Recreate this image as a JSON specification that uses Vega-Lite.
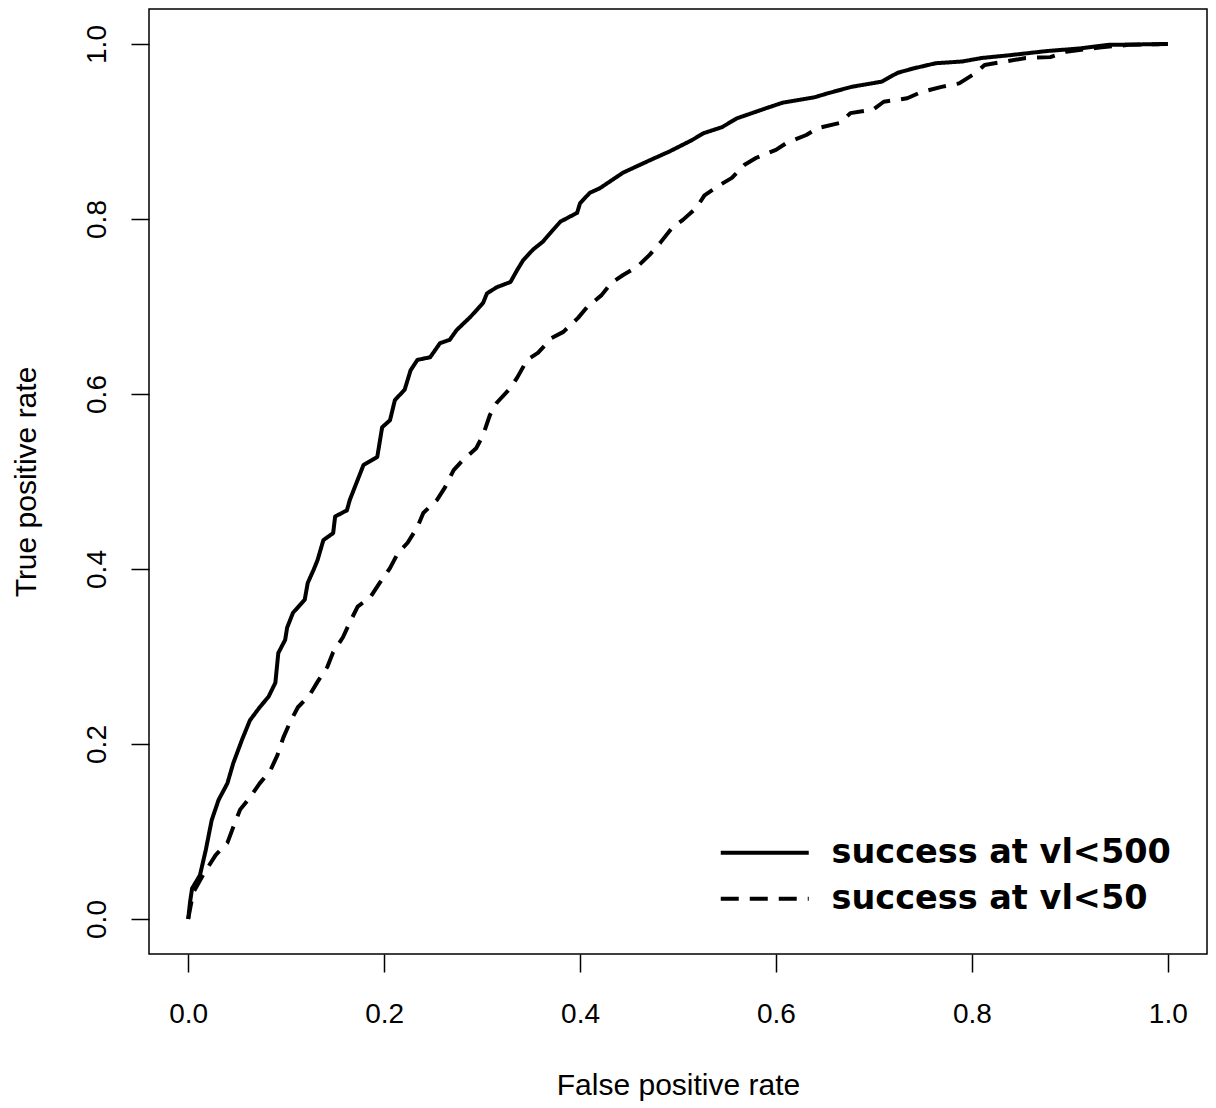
{
  "$schema": "https://vega.github.io/schema/vega-lite/v6.json",
  "width": 1058,
  "height": 945,
  "autosize": {"type": "none"},
  "padding": {"left": 149, "top": 9, "right": 9, "bottom": 154},
  "background": "white",
  "config": {
    "view": {"stroke": "black", "strokeWidth": 1.5},
    "font": "Liberation Sans"
  },
  "datasets": {
    "roc": [
      {"series": "success at vl<500", "fpr": 0, "tpr": 0},
      {"series": "success at vl<500", "fpr": 0.002, "tpr": 0.02},
      {"series": "success at vl<500", "fpr": 0.004, "tpr": 0.035},
      {"series": "success at vl<500", "fpr": 0.012, "tpr": 0.05},
      {"series": "success at vl<500", "fpr": 0.018, "tpr": 0.079},
      {"series": "success at vl<500", "fpr": 0.024, "tpr": 0.113},
      {"series": "success at vl<500", "fpr": 0.031, "tpr": 0.136},
      {"series": "success at vl<500", "fpr": 0.04, "tpr": 0.155},
      {"series": "success at vl<500", "fpr": 0.046, "tpr": 0.178},
      {"series": "success at vl<500", "fpr": 0.055, "tpr": 0.205},
      {"series": "success at vl<500", "fpr": 0.063, "tpr": 0.227},
      {"series": "success at vl<500", "fpr": 0.073, "tpr": 0.242},
      {"series": "success at vl<500", "fpr": 0.082, "tpr": 0.254},
      {"series": "success at vl<500", "fpr": 0.089, "tpr": 0.27},
      {"series": "success at vl<500", "fpr": 0.092, "tpr": 0.304},
      {"series": "success at vl<500", "fpr": 0.099, "tpr": 0.319},
      {"series": "success at vl<500", "fpr": 0.101, "tpr": 0.333},
      {"series": "success at vl<500", "fpr": 0.107, "tpr": 0.35},
      {"series": "success at vl<500", "fpr": 0.119, "tpr": 0.365},
      {"series": "success at vl<500", "fpr": 0.122, "tpr": 0.384},
      {"series": "success at vl<500", "fpr": 0.128, "tpr": 0.399},
      {"series": "success at vl<500", "fpr": 0.132, "tpr": 0.41},
      {"series": "success at vl<500", "fpr": 0.138, "tpr": 0.433},
      {"series": "success at vl<500", "fpr": 0.148, "tpr": 0.441},
      {"series": "success at vl<500", "fpr": 0.15, "tpr": 0.46},
      {"series": "success at vl<500", "fpr": 0.162, "tpr": 0.467},
      {"series": "success at vl<500", "fpr": 0.165, "tpr": 0.479},
      {"series": "success at vl<500", "fpr": 0.179, "tpr": 0.519},
      {"series": "success at vl<500", "fpr": 0.193, "tpr": 0.528},
      {"series": "success at vl<500", "fpr": 0.198, "tpr": 0.562},
      {"series": "success at vl<500", "fpr": 0.206, "tpr": 0.57},
      {"series": "success at vl<500", "fpr": 0.211, "tpr": 0.593},
      {"series": "success at vl<500", "fpr": 0.221, "tpr": 0.605},
      {"series": "success at vl<500", "fpr": 0.227, "tpr": 0.627},
      {"series": "success at vl<500", "fpr": 0.234, "tpr": 0.639},
      {"series": "success at vl<500", "fpr": 0.247, "tpr": 0.642},
      {"series": "success at vl<500", "fpr": 0.257, "tpr": 0.658},
      {"series": "success at vl<500", "fpr": 0.267, "tpr": 0.662},
      {"series": "success at vl<500", "fpr": 0.274, "tpr": 0.673},
      {"series": "success at vl<500", "fpr": 0.288, "tpr": 0.688},
      {"series": "success at vl<500", "fpr": 0.301, "tpr": 0.704},
      {"series": "success at vl<500", "fpr": 0.305, "tpr": 0.715},
      {"series": "success at vl<500", "fpr": 0.315, "tpr": 0.722},
      {"series": "success at vl<500", "fpr": 0.329, "tpr": 0.728},
      {"series": "success at vl<500", "fpr": 0.336, "tpr": 0.742},
      {"series": "success at vl<500", "fpr": 0.342, "tpr": 0.753},
      {"series": "success at vl<500", "fpr": 0.352, "tpr": 0.765},
      {"series": "success at vl<500", "fpr": 0.362, "tpr": 0.774},
      {"series": "success at vl<500", "fpr": 0.372, "tpr": 0.787},
      {"series": "success at vl<500", "fpr": 0.38, "tpr": 0.797},
      {"series": "success at vl<500", "fpr": 0.397, "tpr": 0.807},
      {"series": "success at vl<500", "fpr": 0.4, "tpr": 0.818},
      {"series": "success at vl<500", "fpr": 0.41, "tpr": 0.83},
      {"series": "success at vl<500", "fpr": 0.42, "tpr": 0.835},
      {"series": "success at vl<500", "fpr": 0.444, "tpr": 0.853},
      {"series": "success at vl<500", "fpr": 0.471, "tpr": 0.867},
      {"series": "success at vl<500", "fpr": 0.491, "tpr": 0.877},
      {"series": "success at vl<500", "fpr": 0.514, "tpr": 0.89},
      {"series": "success at vl<500", "fpr": 0.526, "tpr": 0.898},
      {"series": "success at vl<500", "fpr": 0.545, "tpr": 0.905},
      {"series": "success at vl<500", "fpr": 0.56, "tpr": 0.915},
      {"series": "success at vl<500", "fpr": 0.591, "tpr": 0.927},
      {"series": "success at vl<500", "fpr": 0.607, "tpr": 0.933},
      {"series": "success at vl<500", "fpr": 0.639, "tpr": 0.939},
      {"series": "success at vl<500", "fpr": 0.654, "tpr": 0.944},
      {"series": "success at vl<500", "fpr": 0.677, "tpr": 0.951},
      {"series": "success at vl<500", "fpr": 0.708, "tpr": 0.957},
      {"series": "success at vl<500", "fpr": 0.724, "tpr": 0.967},
      {"series": "success at vl<500", "fpr": 0.74, "tpr": 0.972},
      {"series": "success at vl<500", "fpr": 0.763, "tpr": 0.978},
      {"series": "success at vl<500", "fpr": 0.79, "tpr": 0.98},
      {"series": "success at vl<500", "fpr": 0.81, "tpr": 0.984},
      {"series": "success at vl<500", "fpr": 0.837, "tpr": 0.987},
      {"series": "success at vl<500", "fpr": 0.877, "tpr": 0.992},
      {"series": "success at vl<500", "fpr": 0.911, "tpr": 0.995},
      {"series": "success at vl<500", "fpr": 0.939, "tpr": 0.999},
      {"series": "success at vl<500", "fpr": 1, "tpr": 1},
      {"series": "success at vl<50", "fpr": 0, "tpr": 0},
      {"series": "success at vl<50", "fpr": 0.005, "tpr": 0.03},
      {"series": "success at vl<50", "fpr": 0.015, "tpr": 0.05},
      {"series": "success at vl<50", "fpr": 0.028, "tpr": 0.073},
      {"series": "success at vl<50", "fpr": 0.04, "tpr": 0.087},
      {"series": "success at vl<50", "fpr": 0.046, "tpr": 0.105},
      {"series": "success at vl<50", "fpr": 0.053, "tpr": 0.125},
      {"series": "success at vl<50", "fpr": 0.063, "tpr": 0.139},
      {"series": "success at vl<50", "fpr": 0.073, "tpr": 0.155},
      {"series": "success at vl<50", "fpr": 0.084, "tpr": 0.17},
      {"series": "success at vl<50", "fpr": 0.091, "tpr": 0.187},
      {"series": "success at vl<50", "fpr": 0.097, "tpr": 0.207},
      {"series": "success at vl<50", "fpr": 0.104, "tpr": 0.225},
      {"series": "success at vl<50", "fpr": 0.112, "tpr": 0.242},
      {"series": "success at vl<50", "fpr": 0.124, "tpr": 0.256},
      {"series": "success at vl<50", "fpr": 0.132, "tpr": 0.271},
      {"series": "success at vl<50", "fpr": 0.142, "tpr": 0.288},
      {"series": "success at vl<50", "fpr": 0.148, "tpr": 0.305},
      {"series": "success at vl<50", "fpr": 0.158, "tpr": 0.322},
      {"series": "success at vl<50", "fpr": 0.165, "tpr": 0.339},
      {"series": "success at vl<50", "fpr": 0.173, "tpr": 0.357},
      {"series": "success at vl<50", "fpr": 0.186, "tpr": 0.368},
      {"series": "success at vl<50", "fpr": 0.196, "tpr": 0.385},
      {"series": "success at vl<50", "fpr": 0.206, "tpr": 0.401},
      {"series": "success at vl<50", "fpr": 0.214, "tpr": 0.418},
      {"series": "success at vl<50", "fpr": 0.224, "tpr": 0.43},
      {"series": "success at vl<50", "fpr": 0.234, "tpr": 0.448},
      {"series": "success at vl<50", "fpr": 0.24, "tpr": 0.464},
      {"series": "success at vl<50", "fpr": 0.254, "tpr": 0.479},
      {"series": "success at vl<50", "fpr": 0.262, "tpr": 0.493},
      {"series": "success at vl<50", "fpr": 0.271, "tpr": 0.513},
      {"series": "success at vl<50", "fpr": 0.28, "tpr": 0.524},
      {"series": "success at vl<50", "fpr": 0.294, "tpr": 0.538},
      {"series": "success at vl<50", "fpr": 0.301, "tpr": 0.553},
      {"series": "success at vl<50", "fpr": 0.308, "tpr": 0.576},
      {"series": "success at vl<50", "fpr": 0.315, "tpr": 0.59},
      {"series": "success at vl<50", "fpr": 0.329, "tpr": 0.607},
      {"series": "success at vl<50", "fpr": 0.336, "tpr": 0.619},
      {"series": "success at vl<50", "fpr": 0.346, "tpr": 0.639},
      {"series": "success at vl<50", "fpr": 0.357, "tpr": 0.647},
      {"series": "success at vl<50", "fpr": 0.371, "tpr": 0.664},
      {"series": "success at vl<50", "fpr": 0.383, "tpr": 0.671},
      {"series": "success at vl<50", "fpr": 0.398, "tpr": 0.687},
      {"series": "success at vl<50", "fpr": 0.407, "tpr": 0.699},
      {"series": "success at vl<50", "fpr": 0.422, "tpr": 0.713},
      {"series": "success at vl<50", "fpr": 0.432, "tpr": 0.727},
      {"series": "success at vl<50", "fpr": 0.444, "tpr": 0.736},
      {"series": "success at vl<50", "fpr": 0.458, "tpr": 0.745},
      {"series": "success at vl<50", "fpr": 0.471, "tpr": 0.759},
      {"series": "success at vl<50", "fpr": 0.482, "tpr": 0.773},
      {"series": "success at vl<50", "fpr": 0.494, "tpr": 0.79},
      {"series": "success at vl<50", "fpr": 0.505, "tpr": 0.799},
      {"series": "success at vl<50", "fpr": 0.519, "tpr": 0.813},
      {"series": "success at vl<50", "fpr": 0.527, "tpr": 0.827},
      {"series": "success at vl<50", "fpr": 0.543, "tpr": 0.839},
      {"series": "success at vl<50", "fpr": 0.555, "tpr": 0.847},
      {"series": "success at vl<50", "fpr": 0.568, "tpr": 0.862},
      {"series": "success at vl<50", "fpr": 0.58, "tpr": 0.87},
      {"series": "success at vl<50", "fpr": 0.6, "tpr": 0.879},
      {"series": "success at vl<50", "fpr": 0.611, "tpr": 0.887},
      {"series": "success at vl<50", "fpr": 0.631, "tpr": 0.896},
      {"series": "success at vl<50", "fpr": 0.643, "tpr": 0.904},
      {"series": "success at vl<50", "fpr": 0.666, "tpr": 0.91},
      {"series": "success at vl<50", "fpr": 0.676, "tpr": 0.921},
      {"series": "success at vl<50", "fpr": 0.699, "tpr": 0.925},
      {"series": "success at vl<50", "fpr": 0.71, "tpr": 0.934},
      {"series": "success at vl<50", "fpr": 0.734, "tpr": 0.938},
      {"series": "success at vl<50", "fpr": 0.748, "tpr": 0.945},
      {"series": "success at vl<50", "fpr": 0.769, "tpr": 0.951},
      {"series": "success at vl<50", "fpr": 0.787, "tpr": 0.955},
      {"series": "success at vl<50", "fpr": 0.804, "tpr": 0.967},
      {"series": "success at vl<50", "fpr": 0.813, "tpr": 0.976},
      {"series": "success at vl<50", "fpr": 0.834, "tpr": 0.98},
      {"series": "success at vl<50", "fpr": 0.855, "tpr": 0.984},
      {"series": "success at vl<50", "fpr": 0.88, "tpr": 0.985},
      {"series": "success at vl<50", "fpr": 0.896, "tpr": 0.991},
      {"series": "success at vl<50", "fpr": 0.93, "tpr": 0.996},
      {"series": "success at vl<50", "fpr": 0.96, "tpr": 0.999},
      {"series": "success at vl<50", "fpr": 1, "tpr": 1}
    ]
  },
  "data": {"name": "roc"},
  "mark": {"type": "line", "color": "black", "strokeWidth": 4, "interpolate": "linear", "strokeJoin": "round"},
  "encoding": {
    "x": {
      "field": "fpr",
      "type": "quantitative",
      "scale": {"domain": [-0.04, 1.04], "nice": false, "zero": false},
      "axis": {
        "title": "False positive rate",
        "values": [0, 0.2, 0.4, 0.6, 0.8, 1.0],
        "format": ".1f",
        "grid": false,
        "domain": false,
        "tickColor": "black",
        "tickWidth": 1.5,
        "tickSize": 18,
        "labelFont": "Liberation Sans",
        "labelFontSize": 28,
        "labelColor": "black",
        "labelPadding": 28,
        "titleFont": "Liberation Sans",
        "titleFontSize": 30,
        "titleFontWeight": "normal",
        "titleColor": "black",
        "titlePadding": 42
      }
    },
    "y": {
      "field": "tpr",
      "type": "quantitative",
      "scale": {"domain": [-0.04, 1.04], "nice": false, "zero": false},
      "axis": {
        "title": "True positive rate",
        "values": [0, 0.2, 0.4, 0.6, 0.8, 1.0],
        "format": ".1f",
        "grid": false,
        "domain": false,
        "tickColor": "black",
        "tickWidth": 1.5,
        "tickSize": 18,
        "labelAngle": -90,
        "labelAlign": "center",
        "labelBaseline": "bottom",
        "labelFont": "Liberation Sans",
        "labelFontSize": 28,
        "labelColor": "black",
        "labelPadding": 20,
        "titleFont": "Liberation Sans",
        "titleFontSize": 30,
        "titleFontWeight": "normal",
        "titleColor": "black",
        "titlePadding": 42
      }
    },
    "strokeDash": {
      "field": "series",
      "type": "nominal",
      "scale": {
        "domain": ["success at vl<500", "success at vl<50"],
        "range": [[1, 0], [18, 11]]
      },
      "legend": {
        "orient": "none",
        "legendX": 599,
        "legendY": 827,
        "title": null,
        "padding": 0,
        "symbolType": "M-4.4,0L4.4,0",
        "symbolSize": 400,
        "symbolStrokeWidth": 4,
        "symbolStrokeColor": "black",
        "labelFont": "DejaVu Sans",
        "labelFontWeight": "bold",
        "labelFontSize": 33.5,
        "labelColor": "black",
        "labelLimit": 600,
        "labelOffset": 50,
        "rowPadding": 11
      }
    }
  }
}
